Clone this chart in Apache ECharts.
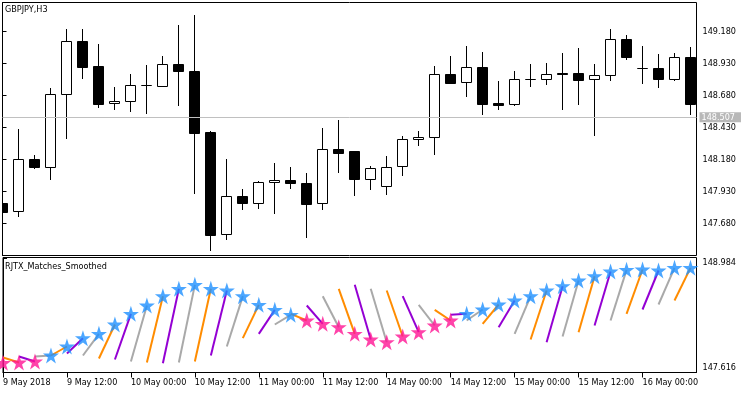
<!DOCTYPE html>
<html>
<head>
<meta charset="utf-8">
<script src="https://cdn.jsdelivr.net/npm/echarts@6/dist/echarts.min.js"></script>
<style>html,body{margin:0;padding:0;background:#fff}#c{width:750px;height:394px}</style>
</head>
<body>
<div id="c"></div>
<script>
// ---------- data ----------
const symbolTitle = 'GBPJPY,H3';
const indicatorTitle = 'RJTX_Matches_Smoothed';

const openPrice  = [147.836,147.774,148.180,148.117,148.688,149.102,148.907,148.618,148.633,148.758,148.750,148.922,148.868,148.391,147.594,147.891,147.836,148.000,148.016,147.992,147.836,148.258,148.243,148.024,147.969,148.125,148.336,148.352,148.844,148.782,148.899,148.618,148.610,148.805,148.805,148.852,148.852,148.805,148.836,149.117,148.891,148.891,148.805,148.977];
const highPrice  = [147.860,148.414,148.211,148.735,149.196,149.196,149.078,148.742,148.844,148.914,148.985,149.227,149.305,148.399,148.180,147.946,148.008,148.149,148.117,148.071,148.422,148.485,148.243,148.125,148.203,148.360,148.399,148.907,148.985,149.063,149.016,148.789,148.868,148.922,148.930,149.008,149.047,148.922,149.196,149.149,149.063,149.000,149.008,149.055];
const lowPrice   = [147.758,147.735,148.110,148.024,148.344,148.813,148.586,148.571,148.555,148.539,148.748,148.602,147.914,147.469,147.555,147.789,147.797,147.758,147.953,147.571,147.789,148.078,147.899,147.946,147.907,148.055,148.289,148.219,148.770,148.672,148.532,148.571,148.605,148.750,148.766,148.571,148.610,148.367,148.797,148.961,148.774,148.742,148.800,148.532];
const closePrice = [147.766,148.180,148.117,148.688,149.102,148.899,148.610,148.633,148.758,148.758,148.922,148.868,148.383,147.586,147.891,147.836,148.000,148.016,147.992,147.828,148.258,148.227,148.024,148.110,148.117,148.336,148.352,148.844,148.774,148.899,148.610,148.602,148.805,148.805,148.844,148.844,148.797,148.836,149.117,148.977,148.891,148.805,148.977,148.610];

// indicator: each bar's segment runs from segStart (previous bar) to matchValue (this bar, star)
const segStart   = [147.820,147.796,147.808,147.808,147.820,147.844,147.820,147.784,147.772,147.748,147.736,147.728,147.736,147.748,147.820,147.928,148.028,148.080,148.192,148.320,148.420,148.532,148.620,148.668,148.620,148.600,148.532,148.428,148.368,148.308,148.240,148.200,148.160,148.080,148.012,147.980,148.048,148.100,148.180,148.240,148.320,148.372,148.432,148.480];
const matchValue = [147.732,147.736,147.748,147.820,147.928,148.028,148.080,148.192,148.320,148.420,148.532,148.620,148.668,148.620,148.600,148.532,148.428,148.368,148.308,148.240,148.200,148.160,148.080,148.012,147.980,148.048,148.100,148.180,148.240,148.320,148.372,148.432,148.480,148.532,148.600,148.652,148.720,148.772,148.828,148.848,148.852,148.840,148.872,148.872];

const timeTickIndex  = [0,4,8,12,16,20,24,28,32,36,40];
const timeTickLabels = ['9 May 2018','9 May 12:00','10 May 00:00','10 May 12:00','11 May 00:00','11 May 12:00','14 May 00:00','14 May 12:00','15 May 00:00','15 May 12:00','16 May 00:00'];
const priceTicks = [147.680,147.930,148.180,148.430,148.680,148.930,149.180];
const lastPrice = 148.507;
const indicatorTopTick = 148.984;
const indicatorBottomTick = 147.616;

// ---------- chart ----------
const FONT = "'DejaVu Sans Condensed', 'Liberation Sans', sans-serif";
const FS = 9;
const segColors = ['#A9A9A9', '#FF8C00', '#9400D3'];
const STAR = 'path://M50,0 L61.2,34.5 L97.6,34.5 L68.2,55.9 L79.4,90.5 L50,69.1 L20.6,90.5 L31.8,55.9 L2.4,34.5 L38.8,34.5 Z';

const chart = echarts.init(document.getElementById('c'), null, {renderer: 'canvas'});

const candleData = openPrice.map((o, i) => [i, o, closePrice[i], lowPrice[i], highPrice[i]]);
const segData = segStart.map((s, i) => [i, s, matchValue[i]]);
const starData = matchValue.map((v, i) => ({
  value: [i, v],
  itemStyle: {color: v >= segStart[i] ? '#1E90FF' : '#FF1493'}
}));

function snap(v) { return Math.round(v - 0.5) + 0.5; }

function renderCandle(params, api) {
  const i = api.value(0);
  const o = api.value(1), c = api.value(2), l = api.value(3), h = api.value(4);
  const pO = api.coord([i, o]), pC = api.coord([i, c]);
  const pL = api.coord([i, l]), pH = api.coord([i, h]);
  const x = snap(pO[0]);
  const top = snap(Math.min(pO[1], pC[1]));
  const bot = snap(Math.max(pO[1], pC[1]));
  const bull = c >= o;
  return {
    type: 'group',
    children: [
      {type: 'line', shape: {x1: x, y1: snap(pH[1]) - 0.5, x2: x, y2: snap(pL[1]) + 0.5},
       style: {stroke: '#000', lineWidth: 1}},
      {type: 'rect', shape: {x: x - 5, y: top, width: 10, height: Math.max(bot - top, 0)},
       style: {fill: bull ? '#fff' : '#000', stroke: '#000', lineWidth: 1}}
    ]
  };
}

function renderSeg(params, api) {
  const i = api.value(0);
  const p1 = api.coord([i - 1, api.value(1)]);
  const p2 = api.coord([i, api.value(2)]);
  return {
    type: 'line',
    shape: {x1: p1[0], y1: p1[1], x2: p2[0], y2: p2[1]},
    style: {stroke: segColors[i % 3], lineWidth: 2}
  };
}

const XMAX = 694 / 16;

chart.setOption({
  animation: false,
  backgroundColor: '#fff',
  textStyle: {fontFamily: FONT},
  title: [
    {text: symbolTitle, left: 5, top: 5, padding: 0,
     textStyle: {fontFamily: FONT, fontSize: FS, fontWeight: 'normal', color: '#000'}},
    {text: indicatorTitle, left: 5, top: 262, padding: 0,
     textStyle: {fontFamily: FONT, fontSize: FS, fontWeight: 'normal', color: '#000'}}
  ],
  grid: [
    {left: 2.5, top: 2.5, width: 694, height: 253, show: true, borderColor: '#000', borderWidth: 1, backgroundColor: '#fff'},
    {left: 2.5, top: 257.5, width: 694, height: 115, show: true, borderColor: '#000', borderWidth: 1, backgroundColor: '#fff'}
  ],
  xAxis: [
    {type: 'value', gridIndex: 0, min: 0, max: XMAX, show: false, splitLine: {show: false}},
    {type: 'value', gridIndex: 1, min: 0, max: XMAX, position: 'bottom',
     splitLine: {show: false},
     axisLine: {show: true, onZero: false, lineStyle: {color: '#000', width: 1}},
     axisTick: {show: true, length: 5, lineStyle: {color: '#000'}, customValues: timeTickIndex},
     axisLabel: {show: true, customValues: timeTickIndex, align: 'left', margin: 6,
       fontFamily: FONT, fontSize: FS, color: '#000',
       formatter: v => timeTickLabels[timeTickIndex.indexOf(Math.round(v))] || ''}}
  ],
  yAxis: [
    {type: 'value', gridIndex: 0, position: 'right', min: 147.43, max: 149.40656, scale: true,
     splitLine: {show: false},
     axisLine: {show: true, lineStyle: {color: '#000'}},
     axisTick: {show: true, length: 4, lineStyle: {color: '#000'}, customValues: priceTicks},
     axisLabel: {show: true, customValues: priceTicks, margin: 6, fontFamily: FONT, fontSize: FS, color: '#000',
       formatter: v => v.toFixed(3)}},
    {type: 'value', gridIndex: 1, position: 'right', min: 147.616, max: 148.996, scale: true,
     splitLine: {show: false},
     axisLine: {show: true, lineStyle: {color: '#000'}},
     axisTick: {show: true, length: 4, lineStyle: {color: '#000'}, customValues: [indicatorTopTick, indicatorBottomTick]},
     axisLabel: {show: true, customValues: [indicatorTopTick], margin: 6, verticalAlign: 'top',
       fontFamily: FONT, fontSize: FS, color: '#000', formatter: v => v.toFixed(3)}},
    {type: 'value', gridIndex: 1, position: 'right', min: 147.616, max: 148.996, scale: true,
     splitLine: {show: false},
     axisLine: {show: false},
     axisTick: {show: false},
     axisLabel: {show: true, customValues: [indicatorBottomTick], margin: 6, verticalAlign: 'bottom',
       fontFamily: FONT, fontSize: FS, color: '#000', formatter: v => v.toFixed(3)}}
  ],
  series: [
    {
      type: 'custom', name: 'price', xAxisIndex: 0, yAxisIndex: 0, clip: true,
      renderItem: renderCandle, data: candleData, silent: true,
      encode: {x: 0, y: [1, 2, 3, 4]},
      markLine: {
        silent: true, symbol: 'none', animation: false,
        lineStyle: {color: '#C0C0C0', width: 1, type: 'solid'},
        label: {show: true, position: 'end', distance: 3, formatter: () => lastPrice.toFixed(3),
          color: '#fff', backgroundColor: '#B8B8B8', padding: [1, 6, 0, 2],
          fontFamily: FONT, fontSize: FS},
        data: [{yAxis: lastPrice}]
      }
    },
    {
      type: 'custom', name: 'segments', xAxisIndex: 1, yAxisIndex: 1, clip: true,
      renderItem: renderSeg, data: segData, silent: true,
      encode: {x: 0, y: [1, 2]}
    },
    {
      type: 'scatter', name: 'stars', xAxisIndex: 1, yAxisIndex: 1, clip: true,
      symbol: STAR, symbolSize: 16, data: starData, silent: true, z: 5
    }
  ]
});
</script>
</body>
</html>
